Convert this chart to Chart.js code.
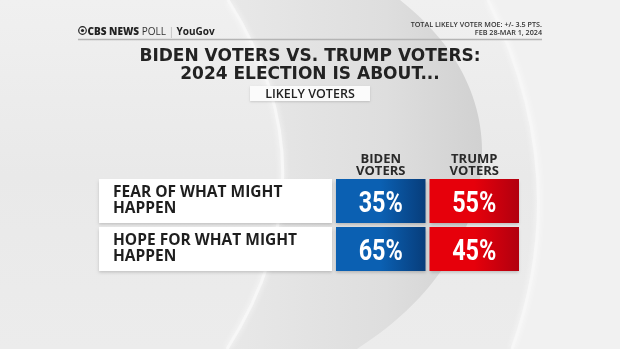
<!DOCTYPE html>
<html>
<head>
<meta charset="utf-8">
<script src="https://cdn.jsdelivr.net/npm/chart.js@4.4.1/dist/chart.umd.min.js"></script>
<style>
  html, body { margin: 0; padding: 0; background: #e9e9e9; }
  #wrap { position: relative; width: 620px; height: 349px; }
</style>
</head>
<body>
<div id="wrap"><canvas id="pollChart"></canvas></div>
<script>
// ---- data ----
const rowLabels = [['FEAR OF WHAT MIGHT', 'HAPPEN'], ['HOPE FOR WHAT MIGHT', 'HAPPEN']];
const columnLabels = [['BIDEN', 'VOTERS'], ['TRUMP', 'VOTERS']];
const bidenValues = [35, 65];
const trumpValues = [55, 45];
const titleLines = ['BIDEN VOTERS VS. TRUMP VOTERS:', '2024 ELECTION IS ABOUT...'];
const subtitleText = 'LIKELY VOTERS';
const noteLines = ['TOTAL LIKELY VOTER MOE: +/- 3.5 PTS.', 'FEB 28-MAR 1, 2024'];

// flat keys for the category scales, lines come back in the tick callbacks
const rowKeys = rowLabels.map(l => l.join(' '));
const columnKeys = columnLabels.map(l => l.join(' '));

// one point per table cell, placed by the category scales
function cells(values, col) {
    return values.map((v, i) => ({ x: columnKeys[col], y: rowKeys[i], v: v }));
}

function paintBackground(ctx, w, h) {
    const base = ctx.createLinearGradient(0, 0, 0, h);
    base.addColorStop(0, '#f0f0f0');
    base.addColorStop(0.5, '#e9e9e9');
    base.addColorStop(1, '#ececec');
    ctx.fillStyle = base;
    ctx.fillRect(0, 0, w, h);

    // light area on the far right
    ctx.beginPath();
    ctx.moveTo(488, 0);
    ctx.quadraticCurveTo(575, 175, 512, 349);
    ctx.lineTo(w, h);
    ctx.lineTo(w, 0);
    ctx.closePath();
    ctx.fillStyle = '#f1f1f1';
    ctx.fill();

    // grey crescent
    ctx.beginPath();
    ctx.moveTo(228, 0);
    ctx.quadraticCurveTo(338, 174, 227, 349);
    ctx.lineTo(357, 349);
    ctx.bezierCurveTo(485, 270, 540, 110, 400, 0);
    ctx.closePath();
    const cres = ctx.createLinearGradient(230, 0, 490, 0);
    cres.addColorStop(0, '#e8e8e8');
    cres.addColorStop(0.6, '#dedede');
    cres.addColorStop(1, '#d0d0d0');
    ctx.fillStyle = cres;
    ctx.fill();

    // soft highlights on the arcs
    ctx.save();
    ctx.shadowColor = 'rgba(255,255,255,0.9)';
    ctx.shadowBlur = 6;
    ctx.strokeStyle = '#f7f7f7';
    ctx.lineWidth = 3;
    ctx.beginPath();
    ctx.moveTo(228, 0);
    ctx.quadraticCurveTo(338, 174, 227, 349);
    ctx.stroke();
    ctx.beginPath();
    ctx.moveTo(488, 0);
    ctx.quadraticCurveTo(575, 175, 512, 349);
    ctx.stroke();
    ctx.restore();
}

function paintHeader(ctx) {
    // CBS eye
    ctx.save();
    ctx.strokeStyle = '#222';
    ctx.fillStyle = '#222';
    ctx.lineWidth = 1.2;
    ctx.beginPath();
    ctx.arc(82.5, 30.5, 3.8, 0, Math.PI * 2);
    ctx.stroke();
    ctx.beginPath();
    ctx.arc(82.5, 30.5, 1.6, 0, Math.PI * 2);
    ctx.fill();
    ctx.restore();

    let x = 87.5;
    const y = 34.5;
    const parts = [
        ['CBS NEWS ', '800 10px "Open Sans"', '#222'],
        ['POLL ', '400 10px "Open Sans"', '#333'],
        ['| ', '300 10px "Open Sans"', '#999'],
        ['YouGov', '700 10px "Open Sans"', '#222']
    ];
    ctx.textBaseline = 'alphabetic';
    ctx.textAlign = 'left';
    parts.forEach(p => {
        ctx.font = p[1];
        ctx.fillStyle = p[2];
        ctx.fillText(p[0], x, y);
        x += ctx.measureText(p[0]).width;
    });

    ctx.font = '600 7.2px "Open Sans"';
    ctx.fillStyle = '#333';
    ctx.textAlign = 'right';
    ctx.fillText(noteLines[0], 542, 26.5);
    ctx.fillText(noteLines[1], 542, 34.5);

    ctx.strokeStyle = '#b4b4b4';
    ctx.lineWidth = 1.5;
    ctx.beginPath();
    ctx.moveTo(78, 39.5);
    ctx.lineTo(542, 39.5);
    ctx.stroke();

    ctx.fillStyle = '#222';
    ctx.textAlign = 'center';
    ctx.font = 'bold 17px "DejaVu Sans"';
    ctx.fillText(titleLines[0], 310, 61);
    ctx.fillText(titleLines[1], 310, 78.5);

    ctx.save();
    ctx.shadowColor = 'rgba(0,0,0,0.15)';
    ctx.shadowBlur = 2;
    ctx.shadowOffsetY = 1;
    ctx.fillStyle = '#fbfbfb';
    ctx.fillRect(250, 86, 120, 15);
    ctx.restore();
    ctx.fillStyle = '#222';
    ctx.font = '600 12.5px "Open Sans"';
    ctx.fillText(subtitleText, 310, 98);
}

const tablePlugin = {
    id: 'tablePlugin',
    beforeDraw(chart) {
        const ctx = chart.ctx;
        const xs = chart.scales.x, ys = chart.scales.y;
        ctx.save();
        paintBackground(ctx, chart.width, chart.height);
        paintHeader(ctx);
        // white label boxes behind the row ticks
        const rowH = ys.height / rowKeys.length;
        rowKeys.forEach((key, i) => {
            const cy = ys.getPixelForValue(i);
            ctx.save();
            ctx.shadowColor = 'rgba(0,0,0,0.18)';
            ctx.shadowBlur = 3;
            ctx.shadowOffsetY = 1.5;
            ctx.fillStyle = '#ffffff';
            ctx.fillRect(ys.left - 14, cy - rowH / 2 + 2, xs.left - 2 - (ys.left - 14), rowH - 4);
            ctx.restore();
        });
        ctx.restore();
    },
    afterDatasetsDraw(chart) {
        const ctx = chart.ctx;
        const xs = chart.scales.x, ys = chart.scales.y;
        const colW = xs.width / columnKeys.length;
        const rowH = ys.height / rowKeys.length;
        ctx.save();
        chart.data.datasets.forEach((ds, di) => {
            chart.getDatasetMeta(di).data.forEach((pt, i) => {
                if (!isFinite(pt.x) || !isFinite(pt.y)) return;
                const w = colW - 4, h = rowH - 4;
                const l = pt.x - w / 2, t = pt.y - h / 2;
                const g = ctx.createLinearGradient(l, 0, l + w, 0);
                g.addColorStop(0, ds.cellColors[0]);
                g.addColorStop(0.5, ds.cellColors[0]);
                g.addColorStop(1, ds.cellColors[1]);
                ctx.save();
                ctx.shadowColor = 'rgba(0,0,0,0.2)';
                ctx.shadowBlur = 3;
                ctx.shadowOffsetY = 1.5;
                ctx.fillStyle = g;
                ctx.fillRect(l, t, w, h);
                ctx.restore();

                ctx.save();
                ctx.translate(pt.x, pt.y + 11);
                ctx.scale(0.78, 1);
                ctx.fillStyle = '#ffffff';
                ctx.font = 'bold 30px Roboto';
                ctx.textAlign = 'center';
                ctx.textBaseline = 'alphabetic';
                ctx.fillText(ds.data[i].v + '%', 0, 0);
                ctx.restore();
            });
        });
        ctx.restore();
    }
};

new Chart(document.getElementById('pollChart'), {
    type: 'scatter',
    data: {
        datasets: [
            { label: 'Biden voters', data: cells(bidenValues, 0), cellColors: ['#0b60b2', '#073d7b'], pointRadius: 0 },
            { label: 'Trump voters', data: cells(trumpValues, 1), cellColors: ['#e6000b', '#b1000f'], pointRadius: 0 }
        ]
    },
    options: {
        responsive: true,
        maintainAspectRatio: false,
        animation: false,
        events: [],
        layout: { padding: { left: 113, right: 99, top: 147, bottom: 76 } },
        scales: {
            x: {
                type: 'category',
                labels: columnKeys,
                position: 'top',
                offset: true,
                grid: { display: false, drawTicks: false },
                border: { display: false },
                afterFit: s => { s.height = 30; },
                ticks: {
                    padding: 0,
                    color: '#2a2a2a',
                    callback: (v, i) => columnLabels[i],
                    font: { family: '"Open Sans"', weight: '700', size: 13, lineHeight: '11.5px' }
                }
            },
            y: {
                type: 'category',
                labels: rowKeys,
                offset: true,
                grid: { display: false, drawTicks: false },
                border: { display: false },
                afterFit: s => { s.width = 221; },
                ticks: {
                    crossAlign: 'far',
                    padding: 0,
                    color: '#1e1e1e',
                    callback: (v, i) => rowLabels[i],
                    font: { family: '"Open Sans"', weight: '700', size: 15.5, lineHeight: '16px' }
                }
            }
        },
        plugins: {
            legend: { display: false },
            tooltip: { enabled: false }
        }
    },
    plugins: [tablePlugin]
});
</script>
</body>
</html>
